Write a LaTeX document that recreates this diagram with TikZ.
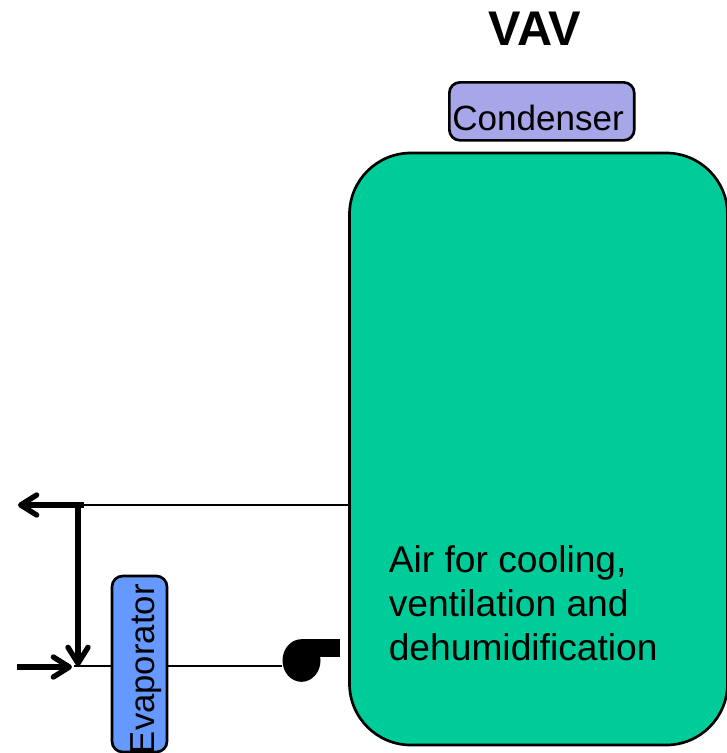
\documentclass[tikz,border=0pt]{standalone}
\usepackage{fontspec}
\setmainfont{Liberation Sans}
\usepackage{xcolor}
\usetikzlibrary{arrows.meta, shapes.geometric}
\definecolor{roomgreen}{HTML}{00CC99}
\definecolor{condblue}{HTML}{A6A6E8}
\definecolor{evapblue}{HTML}{6699FF}
\tikzset{
  coil/.style={draw=black, line width=2pt, rounded corners=8pt, inner ysep=0pt},
  thinduct/.style={line width=2pt},
  thickduct/.style={line width=4pt, -{Straight Barb[length=12pt,width=15pt,line width=4pt,round]}},
}
\begin{document}
\begin{tikzpicture}[x=0.75pt, y=-0.75pt]
      \useasboundingbox (0,0) rectangle (726,753);
      \node[font=\fontsize{36.5}{40}\selectfont\bfseries] (title) at (535,29) {VAV};
      \node[coil, fill=condblue, anchor=north west, inner xsep=2.2pt, text width=134.3pt, align=left,
        text height=36pt, text depth=7.5pt, font=\fontsize{26.3}{30}\selectfont] (condenser) at (448,81) {Condenser};
      \node[draw=black, line width=2pt, fill=roomgreen, rounded corners=46pt, minimum width=283.5pt, minimum height=444pt] (room) at (538.5,449) {};
      \node[font=\fontsize{27.9}{33}\selectfont, anchor=west, align=left, inner sep=0pt] (airtext) at (388.5,603) {Air for cooling,\\ventilation and\\dehumidification};
      \node[coil, fill=evapblue, rotate=90, inner xsep=0pt, text width=132pt, align=left,
        text height=31.5pt, text depth=9.75pt, font=\fontsize{26}{30}\selectfont] (evaporator) at (139.5,664) {\hspace*{-1.5pt}Evaporator};
      \node[fill=black, ellipse, inner sep=0pt, minimum width=28.5pt, minimum height=32pt] (fan) at (301.5,660.5) {};
      \node[fill=black, anchor=north east, inner sep=0pt, minimum width=29pt, minimum height=13.5pt] (fanoutlet) at (340,639) {};
      \coordinate (tee) at (84,505);
      \coordinate (branch) at (78,505);
      \coordinate (exhaust) at (18,505);
      \coordinate (mixpoint) at (74,666);
      \coordinate (drop) at (78,666);
      \coordinate (inlet) at (17,667);
      \coordinate (inletend) at (72,667);
      \draw[thinduct] (tee) -- (tee -| room.west);
      \draw[thinduct] (mixpoint) -- (mixpoint -| evaporator.north);
      \draw[thinduct] (mixpoint -| evaporator.south) -- (mixpoint -| fan.west);
      \draw[thickduct] (tee) -- (exhaust);
      \draw[thickduct] (branch) -- (drop);
      \draw[thickduct] (inlet) -- (inletend);
    \end{tikzpicture}
\end{document}
